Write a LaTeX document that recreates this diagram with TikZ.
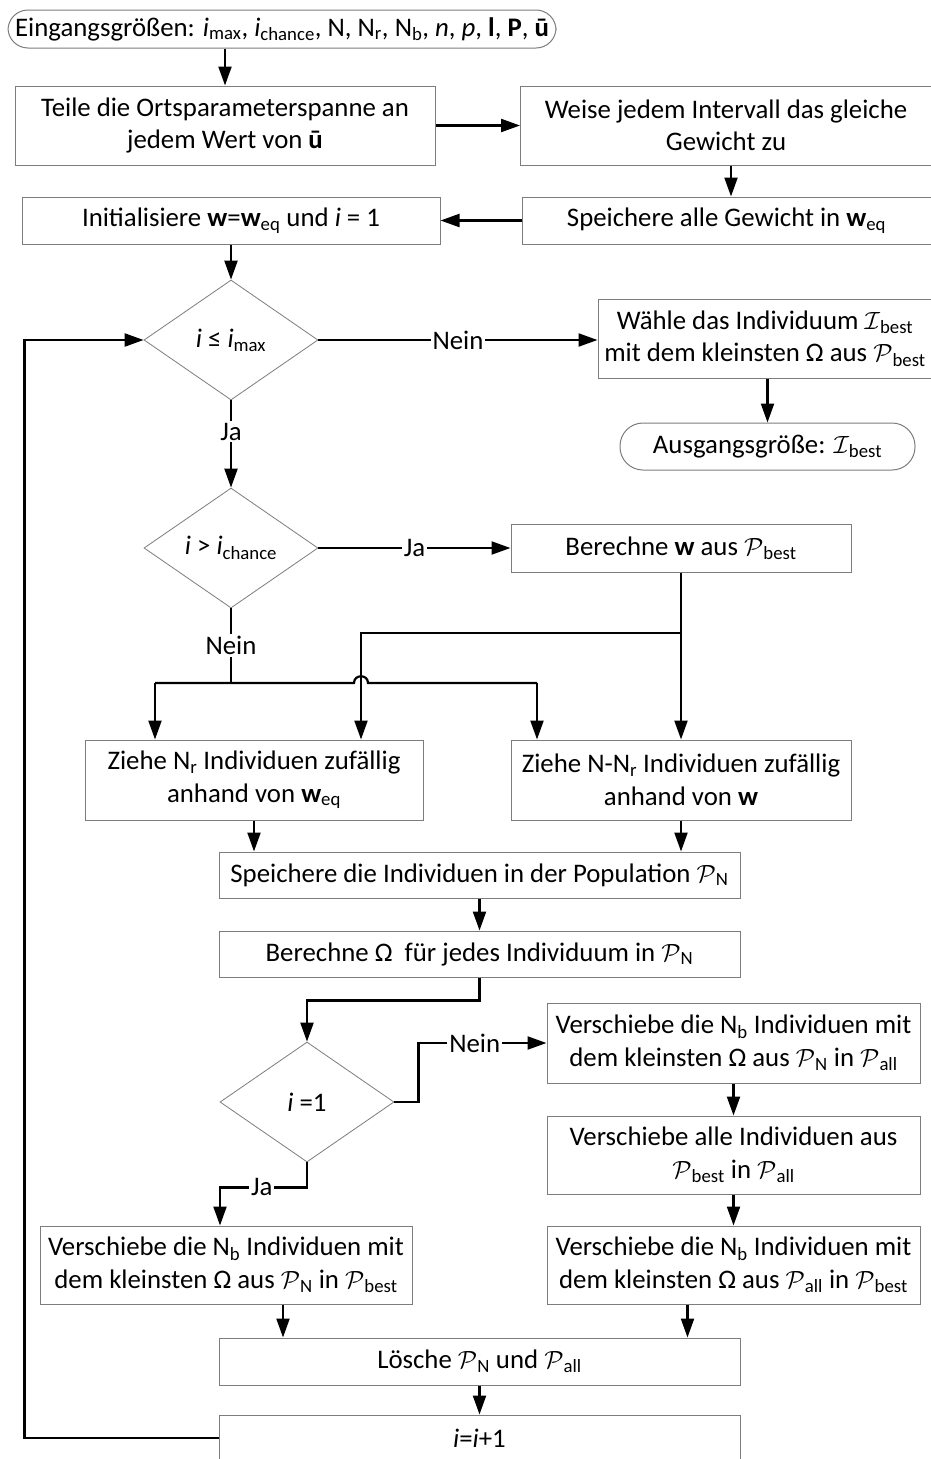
\documentclass[tikz,border=0pt]{standalone}
\usepackage{fontspec}
\setmainfont{Carlito}
\usetikzlibrary{arrows.meta,shapes.geometric}
\definecolor{bordergray}{RGB}{125,125,125}
\newcommand\fs{\fontsize{26.8}{32.5}\selectfont}
\newcommand\Pcal{$\mathcal{P}$}
\newcommand\Ical{$\mathcal{I}$}
\newcommand\sbt[1]{\textsubscript{#1}}
\tikzset{
  box/.style={draw=bordergray, line width=1pt, fill=white, align=center, inner sep=0pt, font=\fs},
  term/.style={box, rounded corners=20pt},
  dec/.style={draw=bordergray, line width=0.8pt, fill=white, shape=diamond, inner sep=0pt, font=\fs, minimum width=174pt, minimum height=120pt},
  line/.style={line width=2.2pt, black},
  conn/.style={line, -{Triangle[length=19pt,width=13pt]}},
  lbl/.style={fill=white, inner sep=2pt, font=\fs}
}
\begin{document}
\begin{tikzpicture}[x=1pt,y=-1pt]
\useasboundingbox (0,0) rectangle (931,1459);
\fill[white] (0,0) rectangle (931,1459);

\node[term, minimum width=548pt, minimum height=38pt] (start) at (282,29)
  {Eingangsgrößen: \textit{i}\sbt{max}, \textit{i}\sbt{chance}, N, N\sbt{r}, N\sbt{b}, \textit{n}, \textit{p}, \textbf{l}, \textbf{P}, \textbf{ū}};
\node[box, minimum width=420pt, minimum height=79pt] (b1) at (225,125.5)
  {Teile die Ortsparameterspanne an\\jedem Wert von \textbf{ū}};
\node[box, minimum width=411pt, minimum height=79pt] (b2) at (726,125.5)
  {Weise jedem Intervall das gleiche\\Gewicht zu};
\node[box, minimum width=409pt, minimum height=47pt] (b3) at (726.5,220.5)
  {Speichere alle Gewicht in \textbf{w}\sbt{eq}};
\node[box, minimum width=418pt, minimum height=47pt] (b4) at (231,220.5)
  {Initialisiere \textbf{w}=\textbf{w}\sbt{eq} und \textit{i} = 1};
\node[dec] (d1) at (231,340) {\textit{i} ≤ \textit{i}\sbt{max}};
\node[box, minimum width=334pt, minimum height=79pt] (b5) at (765,338.5)
  {Wähle das Individuum \Ical\sbt{best}\\mit dem kleinsten Ω aus \Pcal\sbt{best}};
\node[term, minimum width=295pt, minimum height=47pt, rounded corners=23pt] (b6) at (767.5,446.5)
  {Ausgangsgröße: \Ical\sbt{best}};
\node[dec] (d2) at (231,548) {\textit{i} > \textit{i}\sbt{chance}};
\node[box, minimum width=340pt, minimum height=48pt] (b7) at (681,548)
  {Berechne \textbf{w} aus \Pcal\sbt{best}};
\node[box, minimum width=338pt, minimum height=80pt] (b8) at (254,780)
  {Ziehe N\sbt{r} Individuen zufällig\\anhand von \textbf{w}\sbt{eq}};
\node[box, minimum width=340pt, minimum height=80pt] (b9) at (681,780)
  {Ziehe N-N\sbt{r} Individuen zufällig\\anhand von \textbf{w}};
\node[box, minimum width=521pt, minimum height=46pt] (b10) at (479.5,875)
  {Speichere die Individuen in der Population \Pcal\sbt{N}};
\node[box, minimum width=521pt, minimum height=46pt] (b11) at (479.5,954)
  {Berechne Ω\ \ für jedes Individuum in \Pcal\sbt{N}};
\node[dec] (d3) at (307,1102) {\textit{i} =1};
\node[box, minimum width=373pt, minimum height=80pt] (b12) at (733.5,1043)
  {Verschiebe die N\sbt{b} Individuen mit\\dem kleinsten Ω aus \Pcal\sbt{N} in \Pcal\sbt{all}};
\node[box, minimum width=373pt, minimum height=78pt] (b13) at (733.5,1155)
  {Verschiebe alle Individuen aus\\\Pcal\sbt{best} in \Pcal\sbt{all}};
\node[box, minimum width=373pt, minimum height=78pt] (b14) at (733.5,1265)
  {Verschiebe die N\sbt{b} Individuen mit\\dem kleinsten Ω aus \Pcal\sbt{all} in \Pcal\sbt{best}};
\node[box, minimum width=372pt, minimum height=78pt] (b15) at (226,1265)
  {Verschiebe die N\sbt{b} Individuen mit\\dem kleinsten Ω aus \Pcal\sbt{N} in \Pcal\sbt{best}};
\node[box, minimum width=521pt, minimum height=47pt] (b16) at (479.5,1361.5)
  {Lösche \Pcal\sbt{N} und \Pcal\sbt{all}};
\node[box, minimum width=521pt, minimum height=46pt] (b17) at (479.5,1438)
  {\textit{i}=\textit{i}+1};

\coordinate (jn) at (231,683);
\coordinate (jl) at (155,683);
\coordinate (jr) at (537,683);
\coordinate (hop) at (361,683);
\coordinate (jb) at (681,633);
\coordinate (jbl) at (361,633);

\draw[conn] (b1.north |- start.south) -- (b1.north);
\draw[conn] (b1.east) -- (b2.west);
\draw[conn] ([xshift=5pt]b2.south) -- ([xshift=5pt]b2.south |- b3.north);
\draw[conn] (b3.west) -- (b4.east);
\draw[conn] (b4.south) -- (d1.north);
\draw[conn] (d1.east) -- node[lbl]{Nein} (d1.east -| b5.west);
\draw[conn] (b6.north |- b5.south) -- (b6.north);
\draw[conn] (d1.south) -- node[lbl, pos=0.36]{Ja} (d2.north);
\draw[conn] (d2.east) -- node[lbl]{Ja} (b7.west);
\draw[line] (d2.south) -- node[lbl]{Nein} (jn);
\draw[line] (jl) -- ([xshift=-7pt]hop) .. controls +(0,-9) and +(0,-9) .. ([xshift=7pt]hop) -- (jr);
\draw[conn] (jl) -- (jl |- b8.north);
\draw[conn] (jr) -- (jr |- b9.north);
\draw[conn] (b7.south) -- (b9.north);
\draw[conn] (jb) -- (jbl) -- (jbl |- b8.north);
\draw[conn] (b8.south) -- (b8.south |- b10.north);
\draw[conn] (b9.south) -- (b9.south |- b10.north);
\draw[conn] (b10.south) -- (b11.north);
\draw[conn] (b11.south) -- ++(0,23) -| (d3.north);
\draw[conn] (d3.east) -- ++(24,0) |- node[lbl, pos=0.72]{Nein} (b12.west);
\draw[conn] (d3.south) -- ++(0,25) -| node[lbl, pos=0.26]{Ja} ([xshift=-6pt]b15.north);
\draw[conn] (b12.south) -- (b13.north);
\draw[conn] (b13.south) -- (b14.north);
\draw[conn] ([xshift=57pt]b15.south) -- ([xshift=57pt]b15.south |- b16.north);
\draw[conn] ([xshift=-46pt]b14.south) -- ([xshift=-46pt]b14.south |- b16.north);
\draw[conn] (b16.south) -- (b17.north);
\draw[conn] (b17.west) -- ++(-194,0) |- (d1.west);
\end{tikzpicture}
\end{document}
